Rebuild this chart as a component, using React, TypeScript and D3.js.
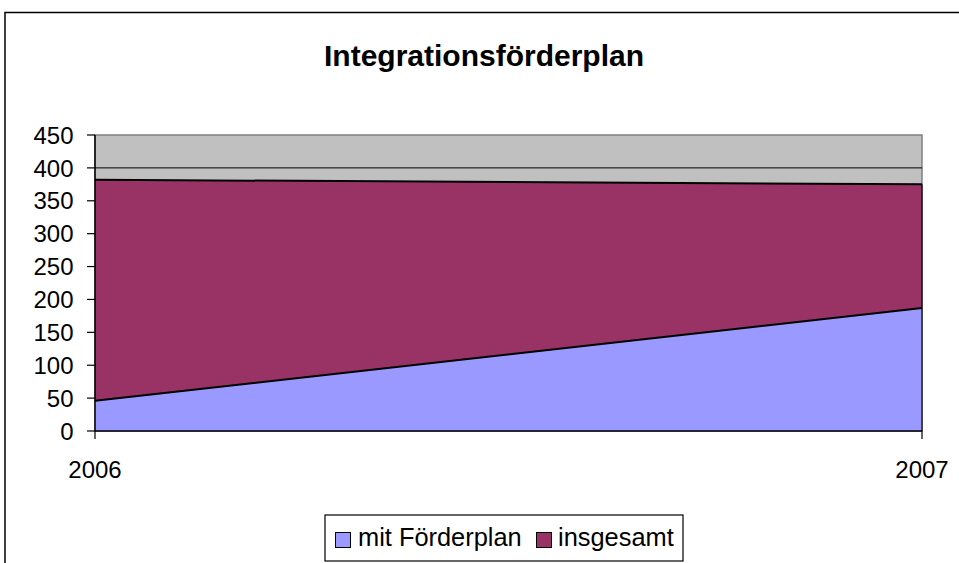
import * as d3 from 'd3';

const years = ['2006', '2007'];
const mitFoerderplan = [46, 187];
const insgesamt = [382, 375];
const yTicks = [0, 50, 100, 150, 200, 250, 300, 350, 400, 450];
const legendLabels = ['mit Förderplan', 'insgesamt'];
const colors = { mit: '#9999FF', ins: '#993366', plot: '#C0C0C0' };

const W = 959;
const H = 563;
const plot = { left: 95, right: 922, top: 135, bottom: 431 };
const font = '"Liberation Sans", Arial, sans-serif';

const App = () => {
  const x = d3.scalePoint<string>().domain(years).range([plot.left, plot.right]);
  const y = d3.scaleLinear().domain([0, 450]).range([plot.bottom, plot.top]);

  const area = d3.area<number>()
    .x((_, i) => x(years[i]) || 0)
    .y0(y(0))
    .y1(d => y(d));
  const topLine = d3.line<number>()
    .x((_, i) => x(years[i]) || 0)
    .y(d => y(d));

  return (
    <svg width={W} height={H} style={{ position: 'absolute', left: 0, top: 0, display: 'block' }}
      fontFamily={font}>
      <rect x={0} y={0} width={W} height={H} fill="#fff" />
      {/* chart frame, cut off at right and bottom */}
      <rect x={5} y={12.5} width={W + 10} height={H + 10} fill="none" stroke="#000" strokeWidth={1.5} />

      <text x={484} y={66} textAnchor="middle" fontSize={30} fontWeight="bold">
        Integrationsförderplan
      </text>

      {/* plot area */}
      <rect x={plot.left} y={plot.top} width={plot.right - plot.left} height={plot.bottom - plot.top}
        fill={colors.plot} stroke="#808080" strokeWidth={1.5} />
      {yTicks.filter(t => t > 0 && t < 450).map(t => (
        <line key={t} x1={plot.left} x2={plot.right} y1={y(t)} y2={y(t)} stroke="#000" strokeWidth={1} />
      ))}

      {/* areas */}
      <path d={area(insgesamt) || ''} fill={colors.ins} />
      <path d={topLine(insgesamt) || ''} fill="none" stroke="#000" strokeWidth={2} />
      <path d={area(mitFoerderplan) || ''} fill={colors.mit} />
      <path d={topLine(mitFoerderplan) || ''} fill="none" stroke="#000" strokeWidth={2} />
      <line x1={plot.right} x2={plot.right} y1={y(insgesamt[1])} y2={plot.bottom} stroke="#000" strokeWidth={1.2} />

      {/* y axis */}
      <line x1={plot.left} x2={plot.left} y1={plot.top} y2={plot.bottom} stroke="#000" strokeWidth={1.5} />
      {yTicks.map(t => (
        <g key={t}>
          <line x1={plot.left - 8} x2={plot.left} y1={y(t)} y2={y(t)} stroke="#000" strokeWidth={1.2} />
          <text x={73.5} y={y(t)} dy="0.36em" textAnchor="end" fontSize={24}>{t}</text>
        </g>
      ))}

      {/* x axis */}
      <line x1={plot.left} x2={plot.right} y1={plot.bottom} y2={plot.bottom} stroke="#000" strokeWidth={1.5} />
      {years.map(yr => (
        <g key={yr}>
          <line x1={x(yr)} x2={x(yr)} y1={plot.bottom} y2={plot.bottom + 8} stroke="#000" strokeWidth={1.2} />
          <text x={x(yr)} y={478} textAnchor="middle" fontSize={24}>{yr}</text>
        </g>
      ))}

      {/* legend */}
      <rect x={325} y={515} width={358} height={46} fill="#fff" stroke="#000" strokeWidth={1.2} />
      <rect x={335.5} y={532.5} width={15} height={15} fill={colors.mit} stroke="#000" strokeWidth={1} />
      <text x={358} y={546} fontSize={25.4}>{legendLabels[0]}</text>
      <rect x={536.5} y={532.5} width={15} height={15} fill={colors.ins} stroke="#000" strokeWidth={1} />
      <text x={558} y={546} fontSize={25.4}>{legendLabels[1]}</text>
    </svg>
  );
};

export default App;
